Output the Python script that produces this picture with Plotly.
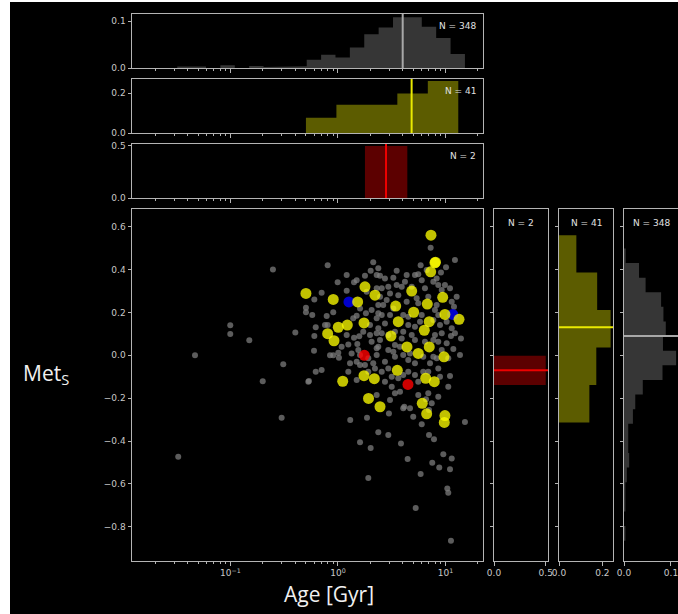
import numpy as np
import plotly.graph_objects as go

# ---------------- data (log10 age in Gyr, metallicity) ----------------
gray_logage = [-1.330, -1.002, -1.002, -0.825, -0.700, -0.509, -0.605, -1.486, -0.524, -0.397,
               -0.096, -0.003, -0.152, -0.220, 0.081, 0.149, 0.251, 0.304, 0.328, -0.298,
               -0.298, -0.239, -0.105, -0.044, -0.207, -0.121, -0.096, -0.220, -0.223, -0.074,
               -0.044, 0.003, 0.009, 0.096, 0.180, 0.149, 0.198, 0.189, 0.112, 0.096,
               0.174, -0.207, -0.152, -0.270, 0.282, 0.344, 0.174, 0.260, 0.313, 0.375,
               0.360, 0.360, 0.298, 0.360, 0.313, 0.360, 0.282, 0.251, 0.328, 0.205,
               0.862, 1.088, 1.005, 0.958, 0.769, 0.747, 0.546, 0.515, 0.375, 0.391,
               1.079, 1.144, 1.051, 1.073, 1.042, 0.933, 1.042, 0.995, 0.933, 0.887,
               0.779, 0.809, 0.732, 0.623, 0.593, 0.468, 0.484, 0.407, 0.391, 0.421,
               0.375, 0.484, 0.437, 0.375, 0.407, 0.607, 0.654, 0.716, 0.779, 0.918,
               0.933, 0.949, 0.965, 1.058, 0.902, 1.011, 0.933, 0.716, 0.593, 0.530,
               0.468, 0.375, 0.530, 0.654, 0.607, 0.716, 0.856, 0.918, 0.793, 0.654,
               0.468, 0.407, 0.561, 0.747, 0.437, 0.360,
               -0.276, 0.360, 0.114, 0.270, 0.375, 0.205, 0.304, 0.282,
               1.181, 0.468, 0.586, 0.779, 0.847, 0.893, 0.474, 0.648, 0.980, 1.058,
               0.877, 0.942, 1.042, 0.769, 1.017, 1.026, 0.723, 1.051, 0.500, 0.530,
               0.607, 0.670, 0.700, 0.840, 0.872, 0.933, 1.026, 0.484, 0.577, 0.747,
               0.617, 0.819, 0.847,
               0.453, 0.515, 0.407, 0.561, 0.639, 0.747, 0.607, 0.654, 0.763, 0.887,
               0.902, 0.840, 0.965, 1.058, 1.104, 1.011, 1.088, 0.887, 0.809, 0.686,
               0.530, 0.468, 0.391, 0.515, 0.577, 0.670, 0.793, 0.887, 0.965, 1.026,
               1.135, 0.840, 0.949, 0.716, 0.607, 0.500, 0.437, 0.686, 0.546, 0.716,
               0.639, 0.825, 0.918, 0.437, 0.235, 0.298, 0.205, 0.142, 0.081, 0.034,
               0.127, 0.205, 0.174, 0.267, 0.174, 0.081, 0.360]
gray_met = [0.000, 0.140, 0.099, 0.070, -0.121, -0.042, 0.401, -0.473, -0.291, 0.107,
            0.421, 0.341, 0.292, 0.261, 0.301, 0.341, 0.371, 0.395, 0.434, 0.222,
            0.201, 0.188, 0.183, 0.201, 0.131, 0.141, 0.141, 0.090, 0.021, 0.000,
            0.000, 0.012, -0.011, 0.051, 0.053, 0.082, 0.089, 0.025, -0.037, -0.077,
            -0.030, -0.077, -0.069, -0.120, -0.077, -0.061, 0.185, 0.196, 0.211, 0.235,
            0.375, 0.173, 0.095, 0.103, 0.063, 0.033, -0.014, -0.045, -0.037, 0.001,
            0.502, 0.445, 0.411, 0.387, 0.421, 0.379, 0.395, 0.362, 0.406, 0.371,
            0.227, 0.079, 0.090, 0.029, -0.097, -0.061, 0.313, 0.328, 0.328, 0.343,
            0.351, 0.313, 0.266, 0.343, 0.320, 0.320, 0.289, 0.313, 0.273, 0.235,
            0.196, 0.188, 0.149, 0.126, 0.103, 0.110, 0.141, 0.133, 0.188, 0.235,
            0.188, 0.141, 0.103, 0.126, 0.095, 0.056, 0.063, 0.071, 0.079, 0.048,
            0.025, 0.040, -0.007, -0.022, 0.001, -0.037, -0.037, -0.014, -0.077, -0.077,
            -0.061, -0.077, -0.107, -0.123, -0.030, 0.001,
            -0.123, -0.185, -0.302, -0.291, -0.359, -0.406, -0.433, -0.573,
            -0.311, -0.372, -0.411, -0.322, -0.372, -0.392, -0.271, -0.484, -0.462, -0.482,
            -0.501, -0.523, -0.532, -0.554, -0.622, -0.641, -0.713, -0.865, -0.147, -0.177,
            -0.247, -0.247, -0.287, -0.177, -0.224, -0.193, -0.147, -0.209, -0.170, -0.185,
            -0.240, -0.205, -0.255,
            0.258, 0.219, 0.188, 0.281, 0.250, 0.243, 0.188, 0.180, 0.157, 0.165,
            0.211, 0.273, 0.305, 0.250, 0.273, 0.157, 0.103, 0.071, 0.063, 0.095,
            0.110, 0.095, 0.071, 0.017, 0.040, 0.009, -0.007, -0.007, 0.025, -0.014,
            0.001, -0.077, -0.100, -0.092, -0.092, -0.100, -0.123, 0.320, 0.328, 0.375,
            0.375, 0.398, 0.359, 0.359, 0.110, 0.141, 0.219, 0.173, 0.095, 0.040,
            0.009, -0.045, -0.115, 0.297, 0.351, 0.375, 0.313]

yellow_logage = [-0.298, -0.044, 0.183, 0.251, 0.344, 0.003, 0.087, 0.242, -0.096, -0.037,
                 0.044, 0.242, 0.338, 0.865, 0.902, 0.862, 0.686, 0.974, 0.537, 0.831,
                 0.704, 0.995, 1.126, 0.561, 0.849, 0.803, 0.493, 0.642, 0.747, 0.849,
                 0.986, 0.552, 0.816, 0.896, 0.284, 0.391, 0.784, 0.825, 0.995, 0.989, 0.907]
yellow_met = [0.289, 0.261, 0.249, 0.320, 0.281, 0.131, 0.141, 0.151, 0.101, 0.068,
              -0.121, -0.095, -0.109, 0.561, 0.432, 0.390, 0.300, 0.271, 0.230, 0.239,
              0.201, 0.191, 0.168, 0.157, 0.157, 0.117, 0.090, 0.039, 0.009, 0.039,
              -0.007, -0.070, -0.107, -0.123, -0.201, -0.240, -0.224, -0.273, -0.281, -0.313, 0.435]

blue_logage = [0.102, 1.067]
blue_met = [0.249, 0.191]

red_logage = [0.245, 0.651]
red_met = [0.000, -0.136]

# histogram values
age_hist_all_range = (-1.495, 1.181)
age_hist_all = [0.003, 0.003, 0.0, 0.006, 0.0, 0.004, 0.002, 0.003, 0.0035, 0.0176,
                0.028, 0.0225, 0.0437, 0.072, 0.086, 0.108, 0.108, 0.088, 0.064, 0.030]
age_hist_yel_range = (-0.298, 1.119)
age_hist_yel = [0.077, 0.142, 0.142, 0.199, 0.262]
age_hist_red_range = (0.251, 0.645)
age_hist_red = [0.5, 0.5]

met_hist_all_range = (-0.865, 0.499)
met_hist_all = [0.003, 0.0, 0.003, 0.003, 0.006, 0.011, 0.009, 0.009, 0.019, 0.024,
                0.040, 0.082, 0.111, 0.083, 0.089, 0.084, 0.079, 0.046, 0.032, 0.0036]
met_hist_yel_range = (-0.313, 0.561)
met_hist_yel = [0.14, 0.172, 0.238, 0.176, 0.08]
met_hist_red_range = (-0.139, -0.002)
met_hist_red = [0.5, 0.5]

# central lines
age_line = {"all": 0.602, "yel": 0.685, "red": 0.447}
met_line = {"all": 0.090, "yel": 0.131, "red": -0.070}

counts = {"all": 348, "yel": 41, "red": 2}

# ---------------- styling ----------------
W, H = 678, 614
SPINE = "#b4b4b4"
TICK = "#c8c8c8"
C_GRAY = "rgba(128,128,128,0.72)"
C_YEL = "rgba(255,255,0,0.76)"
C_BLUE = "rgba(0,0,255,0.8)"
C_RED = "rgba(255,0,0,0.8)"
F_GRAY = "rgba(128,128,128,0.42)"
F_YEL = "rgba(255,255,0,0.36)"
F_RED = "rgba(255,0,0,0.36)"
L_GRAY = "#a8a8a8"
L_YEL = "#eaea00"
L_RED = "#ee0000"


def fx(p):
    return p / W


def fy(p):
    return 1 - p / H


def step(rng, heights):
    edges = np.linspace(rng[0], rng[1], len(heights) + 1)
    pos, val = [edges[0]], [0.0]
    for i, h in enumerate(heights):
        pos += [edges[i], edges[i + 1]]
        val += [h, h]
    pos.append(edges[-1])
    val.append(0.0)
    return np.array(pos), np.array(val)


fig = go.Figure()

# main scatter
fig.add_trace(go.Scatter(x=10 ** np.array(gray_logage), y=gray_met, mode="markers",
                         marker=dict(size=6, color=C_GRAY, line=dict(width=0)), xaxis="x", yaxis="y"))
fig.add_trace(go.Scatter(x=10 ** np.array(blue_logage), y=blue_met, mode="markers",
                         marker=dict(size=11, color=C_BLUE, line=dict(width=0)), xaxis="x", yaxis="y"))
fig.add_trace(go.Scatter(x=10 ** np.array(yellow_logage), y=yellow_met, mode="markers",
                         marker=dict(size=11, color=C_YEL, line=dict(width=0)), xaxis="x", yaxis="y"))
fig.add_trace(go.Scatter(x=10 ** np.array(red_logage), y=red_met, mode="markers",
                         marker=dict(size=11, color=C_RED, line=dict(width=0)), xaxis="x", yaxis="y"))

top_ranges = {"all": [0, 0.1149], "yel": [0, 0.272], "red": [0, 0.519]}
right_ranges = {"red": [0, 0.522], "yel": [0, 0.249], "all": [0, 0.115]}

# top age histograms
for key, (xa, ya), rng, hs, fill, lc in [
        ("all", ("x2", "y2"), age_hist_all_range, age_hist_all, F_GRAY, L_GRAY),
        ("yel", ("x3", "y3"), age_hist_yel_range, age_hist_yel, F_YEL, L_YEL),
        ("red", ("x4", "y4"), age_hist_red_range, age_hist_red, F_RED, L_RED)]:
    p, v = step(rng, hs)
    fig.add_trace(go.Scatter(x=10 ** p, y=v, mode="lines", fill="toself", fillcolor=fill,
                             line=dict(width=0), xaxis=xa, yaxis=ya))
    fig.add_trace(go.Scatter(x=[10 ** age_line[key]] * 2, y=top_ranges[key], mode="lines",
                             line=dict(color=lc, width=2), xaxis=xa, yaxis=ya))

# right metallicity histograms
for key, (xa, ya), rng, hs, fill, lc in [
        ("red", ("x5", "y5"), met_hist_red_range, met_hist_red, F_RED, L_RED),
        ("yel", ("x6", "y6"), met_hist_yel_range, met_hist_yel, F_YEL, L_YEL),
        ("all", ("x7", "y7"), met_hist_all_range, met_hist_all, F_GRAY, L_GRAY)]:
    p, v = step(rng, hs)
    fig.add_trace(go.Scatter(x=v, y=p, mode="lines", fill="toself", fillcolor=fill,
                             line=dict(width=0), xaxis=xa, yaxis=ya))
    fig.add_trace(go.Scatter(x=right_ranges[key], y=[met_line[key]] * 2, mode="lines",
                             line=dict(color=lc, width=2), xaxis=xa, yaxis=ya))

common = dict(showline=True, mirror=True, linecolor=SPINE, linewidth=1, ticks="outside",
              ticklen=3.5, tickwidth=1, tickcolor=SPINE, showgrid=False, zeroline=False,
              automargin=False, ticklabeloverflow="allow",
              tickfont=dict(family="DejaVu Sans", size=9, color=TICK))

minor_vals = [m * 10.0 ** k for k in range(-2, 2) for m in range(2, 10)]
log_x = dict(type="log", range=[-1.916, 1.349], tickvals=[0.1, 1, 10],
             ticktext=["10<sup>−1</sup>", "10<sup>0</sup>", "10<sup>1</sup>"],
             minor=dict(tickvals=minor_vals, ticks="outside", ticklen=2, tickcolor=SPINE))

main_dom_x = [fx(132), fx(483)]
main_dom_y = [fy(561), fy(209)]
met_ticks = [0.6, 0.4, 0.2, 0.0, -0.2, -0.4, -0.6, -0.8]
met_text = ["{:.1f}".format(t).replace("-", "−") for t in met_ticks]

lay = dict(
    width=W, height=H, margin=dict(l=0, r=0, t=0, b=0, autoexpand=False),
    paper_bgcolor="white", plot_bgcolor="black", showlegend=False,
    xaxis=dict(**common, **log_x, domain=main_dom_x, anchor="y"),
    yaxis=dict(**common, domain=main_dom_y, anchor="x", range=[-0.960, 0.683],
               tickvals=met_ticks, ticktext=met_text),
)
top_doms = {"2": (14, 68), "3": (79, 133), "4": (144, 198)}
top_ticks = {"2": ([0, 0.1], ["0.0", "0.1"], top_ranges["all"]),
             "3": ([0, 0.2], ["0.0", "0.2"], top_ranges["yel"]),
             "4": ([0, 0.5], ["0.0", "0.5"], top_ranges["red"])}
for k, (t, b) in top_doms.items():
    lay["xaxis" + k] = dict(**common, **log_x, domain=main_dom_x, anchor="y" + k,
                            matches="x", showticklabels=False)
    tv, tt, rg = top_ticks[k]
    lay["yaxis" + k] = dict(**common, domain=[fy(b), fy(t)], anchor="x" + k, range=rg,
                            tickvals=tv, ticktext=tt)

right_doms = {"5": (494, 548), "6": (559, 613), "7": (624, 678)}
right_ticks = {"5": ([0, 0.5], ["0.0", "0.5"], right_ranges["red"]),
               "6": ([0, 0.2], ["0.0", "0.2"], right_ranges["yel"]),
               "7": ([0, 0.1], ["0.0", "0.1"], right_ranges["all"])}
for k, (l, r) in right_doms.items():
    tv, tt, rg = right_ticks[k]
    lay["xaxis" + k] = dict(**common, domain=[fx(l), min(fx(r), 1.0)], anchor="y" + k,
                            range=rg, tickvals=tv, ticktext=tt)
    ycfg = dict(**common)
    if k == "7":
        ycfg["mirror"] = False
    lay["yaxis" + k] = dict(**ycfg, domain=main_dom_y, anchor="x" + k, matches="y",
                            tickvals=met_ticks, showticklabels=False)

fig.update_layout(**lay)

# black picture area on the white page (white border at far left and top)
fig.add_shape(type="rect", xref="paper", yref="paper", x0=fx(10), x1=1, y0=0, y1=fy(2),
              fillcolor="black", line=dict(width=0), layer="below")

ann_font = dict(family="DejaVu Sans", size=9, color="#e0e0e0")
for k, key in [("2", "all"), ("3", "yel"), ("4", "red")]:
    fig.add_annotation(text="N = {}".format(counts[key]), xref="x{} domain".format(k),
                       yref="y{} domain".format(k), x=0.985, y=0.78, xanchor="right",
                       yanchor="middle", showarrow=False, font=ann_font)
for k, key in [("5", "red"), ("6", "yel"), ("7", "all")]:
    fig.add_annotation(text="N = {}".format(counts[key]), xref="x{} domain".format(k),
                       yref="y{} domain".format(k), x=0.5, y=0.96, xanchor="center",
                       yanchor="middle", showarrow=False, font=ann_font)

fig.add_annotation(text="Age [Gyr]", xref="paper", yref="paper", x=fx(329), y=fy(594),
                   xanchor="center", yanchor="middle", showarrow=False,
                   font=dict(family="Open Sans", size=21, color="#f0f0f0"))
fig.add_annotation(text="Met<sub>S</sub>", xref="paper", yref="paper", x=fx(46), y=fy(374),
                   xanchor="center", yanchor="middle", showarrow=False,
                   font=dict(family="Open Sans", size=21, color="#f0f0f0"))

fig.write_html("out.html")
